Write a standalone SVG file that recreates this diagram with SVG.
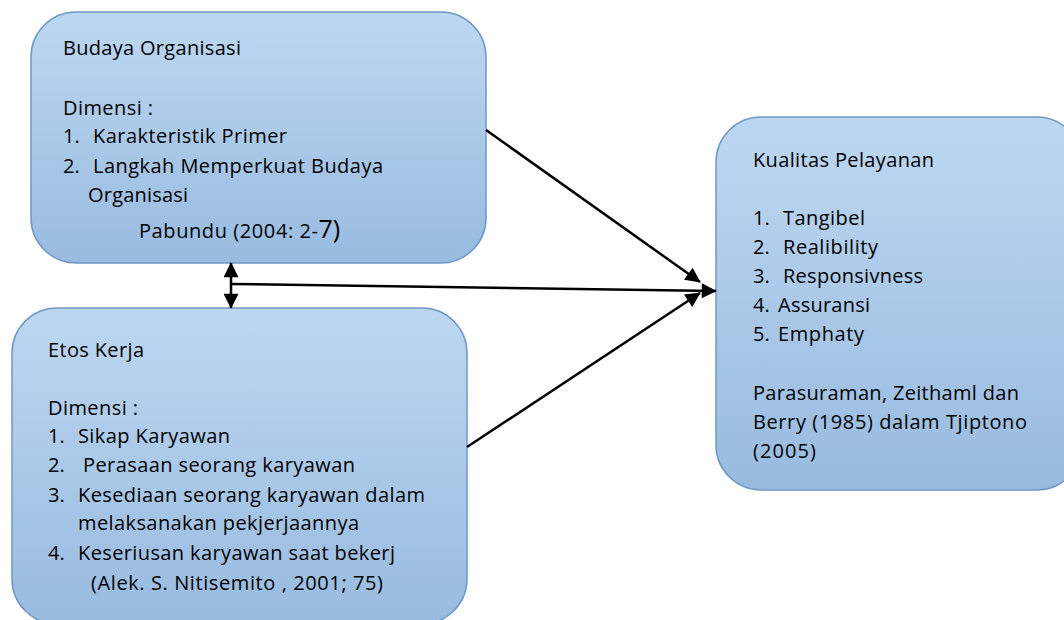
<svg xmlns="http://www.w3.org/2000/svg" width="1064" height="620" viewBox="0 0 1064 620">
<defs>
<linearGradient id="g" x1="0" y1="0" x2="0" y2="1">
<stop offset="0" stop-color="#bdd7f1"/>
<stop offset="1" stop-color="#98bbe0"/>
</linearGradient>
<marker id="ahb" viewBox="0 0 10 10" refX="9.5" refY="5" markerWidth="17" markerHeight="15" markerUnits="userSpaceOnUse" orient="auto-start-reverse">
<path d="M0,0 L10,5 L0,10 z" fill="#000"/>
</marker>
</defs>
<style>
.box{fill:url(#g);stroke:#7098c6;stroke-width:1.5}
text{font-family:"Open Sans","Lato",sans-serif;font-size:20px;fill:#000}
.c{stroke:#000;stroke-width:2.5;fill:none}
</style>
<rect width="1064" height="620" fill="#fff"/>
<g id="budaya">
<rect class="box" x="31" y="12" width="455" height="251" rx="45"/>
<text x="63" y="55" textLength="178" lengthAdjust="spacing">Budaya Organisasi</text>
<text x="63" y="115" textLength="90" lengthAdjust="spacing">Dimensi :</text>
<text y="143"><tspan x="63">1.</tspan><tspan x="93" textLength="194" lengthAdjust="spacing">Karakteristik Primer</tspan></text>
<text y="173"><tspan x="63">2.</tspan><tspan x="93" textLength="290" lengthAdjust="spacing">Langkah Memperkuat Budaya</tspan></text>
<text x="88" y="202" textLength="100" lengthAdjust="spacing">Organisasi</text>
<text y="238"><tspan x="139" textLength="179" lengthAdjust="spacing">Pabundu (2004: 2-</tspan><tspan font-size="25">7)</tspan></text>
</g>
<g id="etos">
<rect class="box" x="12" y="308" width="455" height="316" rx="45"/>
<text x="48" y="357" textLength="96" lengthAdjust="spacing">Etos Kerja</text>
<text x="48" y="415" textLength="90" lengthAdjust="spacing">Dimensi :</text>
<text y="443"><tspan x="48">1.</tspan><tspan x="78" textLength="152" lengthAdjust="spacing">Sikap Karyawan</tspan></text>
<text y="472"><tspan x="48">2.</tspan><tspan x="83" textLength="272" lengthAdjust="spacing">Perasaan seorang karyawan</tspan></text>
<text y="502"><tspan x="48">3.</tspan><tspan x="78" textLength="347" lengthAdjust="spacing">Kesediaan seorang karyawan dalam</tspan></text>
<text x="78" y="530" textLength="281" lengthAdjust="spacing">melaksanakan pekjerjaannya</text>
<text y="560"><tspan x="48">4.</tspan><tspan x="78" textLength="317" lengthAdjust="spacing">Keseriusan karyawan saat bekerj</tspan></text>
<text x="91" y="590" textLength="292" lengthAdjust="spacing">(Alek. S. Nitisemito , 2001; 75)</text>
</g>
<g id="kualitas">
<rect class="box" x="716" y="117" width="366" height="373" rx="45"/>
<text x="753" y="167" textLength="181" lengthAdjust="spacing">Kualitas Pelayanan</text>
<text y="225"><tspan x="753">1.</tspan><tspan x="783" textLength="82" lengthAdjust="spacing">Tangibel</tspan></text>
<text y="254"><tspan x="753">2.</tspan><tspan x="783" textLength="95" lengthAdjust="spacing">Realibility</tspan></text>
<text y="283"><tspan x="753">3.</tspan><tspan x="783" textLength="140" lengthAdjust="spacing">Responsivness</tspan></text>
<text y="312"><tspan x="753">4.</tspan><tspan x="778" textLength="92" lengthAdjust="spacing">Assuransi</tspan></text>
<text y="341"><tspan x="753">5.</tspan><tspan x="778" textLength="86" lengthAdjust="spacing">Emphaty</tspan></text>
<text x="753" y="400" textLength="266" lengthAdjust="spacing">Parasuraman, Zeithaml dan</text>
<text x="753" y="429" textLength="274" lengthAdjust="spacing">Berry (1985) dalam Tjiptono</text>
<text x="753" y="458" textLength="63" lengthAdjust="spacing">(2005)</text>
</g>
<g id="connectors">
<line class="c" x1="486" y1="130" x2="700" y2="282" marker-end="url(#ahb)"/>
<line class="c" x1="467" y1="447" x2="700" y2="293" marker-end="url(#ahb)"/>
<line class="c" x1="231" y1="284" x2="716" y2="291" marker-end="url(#ahb)"/>
<line class="c" x1="231" y1="263" x2="231" y2="308" marker-start="url(#ahb)" marker-end="url(#ahb)"/>
</g>
</svg>
